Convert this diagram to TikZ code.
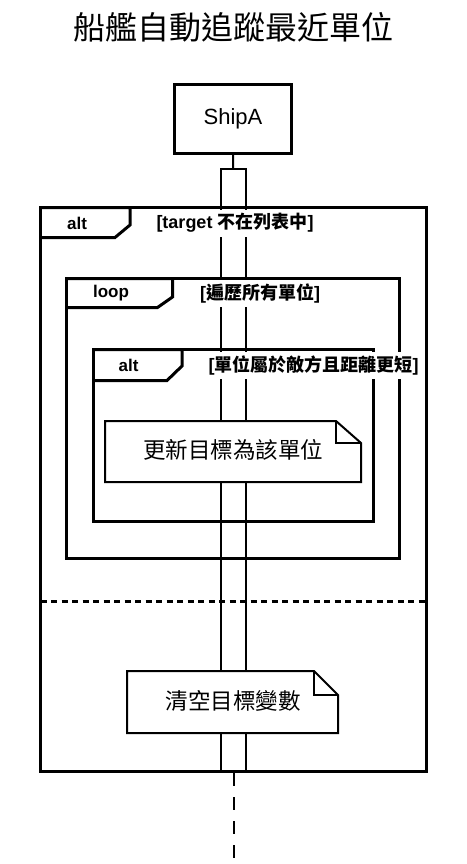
\documentclass[tikz,border=0pt]{standalone}
\usepackage{fontspec}
\setmainfont{Liberation Sans}
\newfontfamily\cjk{Noto Sans CJK TC}
\tikzset{
  fragframe/.style={line width=3pt},
  tablabel/.style={font=\bfseries\fontsize{17}{20}\selectfont, inner sep=1pt},
  guard/.style={tablabel, font=\bfseries\fontsize{18}{21}\selectfont, fill=white, minimum height=27pt},
  notebox/.style={draw, line width=2pt, fill=white},
  notetext/.style={font=\cjk\fontsize{22.5}{26}\selectfont}
}
\begin{document}
\begin{tikzpicture}[x=1pt,y=-1pt]
      \useasboundingbox (0,0) rectangle (466,864);
      \node[font=\cjk\fontsize{32}{36}\selectfont] (title) at (233,27) {船艦自動追蹤最近單位};
      \node[draw, line width=3pt, minimum width=117pt, minimum height=69pt,
        font=\fontsize{22}{26}\selectfont] (ship) at (233,119) {ShipA};
      \node[draw, line width=2pt, minimum width=25pt, minimum height=603pt,
        anchor=north, inner sep=0pt] (act) at (233.5,168) {};
      \coordinate (lifeend) at (233.5,864);
      \begin{scope}[line width=2pt]
        \draw (ship) to (act);
        \draw[dash pattern=on 13pt off 11pt] (act.south) to (lifeend);
      \end{scope}
      \begin{scope}[fragframe]
        \draw (40.5,207.5) rectangle (426.5,771.5);
        \draw (40.5,207.5) -- (130,207.5) -- (130,225) -- (115,237.5) -- (40.5,237.5);
        \draw[dash pattern=on 6pt off 4.5pt] (40.5,601) -- (426.5,601);
        \draw (66.5,278.5) rectangle (399,558);
        \draw (66.5,278.5) -- (172.5,278.5) -- (172.5,297) -- (157.5,307.5) -- (66.5,307.5);
        \draw (93,349.5) rectangle (373.5,521);
        \draw (93,349.5) -- (182,349.5) -- (182,366) -- (167,380.5) -- (93,380.5);
      \end{scope}
      \node[tablabel] (alt1) at (77,223) {alt};
      \node[guard] (guard1) at (235,223) {[target {\cjk 不在列表中}]};
      \node[tablabel] (loop) at (111,293) {loop};
      \node[guard] (guard2) at (260,293.5) {[{\cjk 遍歷所有單位}]};
      \node[tablabel] (alt2) at (128.5,365) {alt};
      \node[guard] (guard3) at (313.5,365.5) {[{\cjk 單位屬於敵方且距離更短}]};
      \draw[notebox] (105,421) -- (336,421) -- (361,443) -- (361,482) -- (105,482) -- cycle;
      \draw[line width=2pt] (336,421) -- (336,443) -- (361,443);
      \node[notetext] (note1) at (233,450) {更新目標為該單位};
      \draw[notebox] (127,671) -- (314,671) -- (338,695) -- (338,733) -- (127,733) -- cycle;
      \draw[line width=2pt] (314,671) -- (314,695) -- (338,695);
      \node[notetext] (note2) at (233,701) {清空目標變數};
    \end{tikzpicture}
\end{document}
